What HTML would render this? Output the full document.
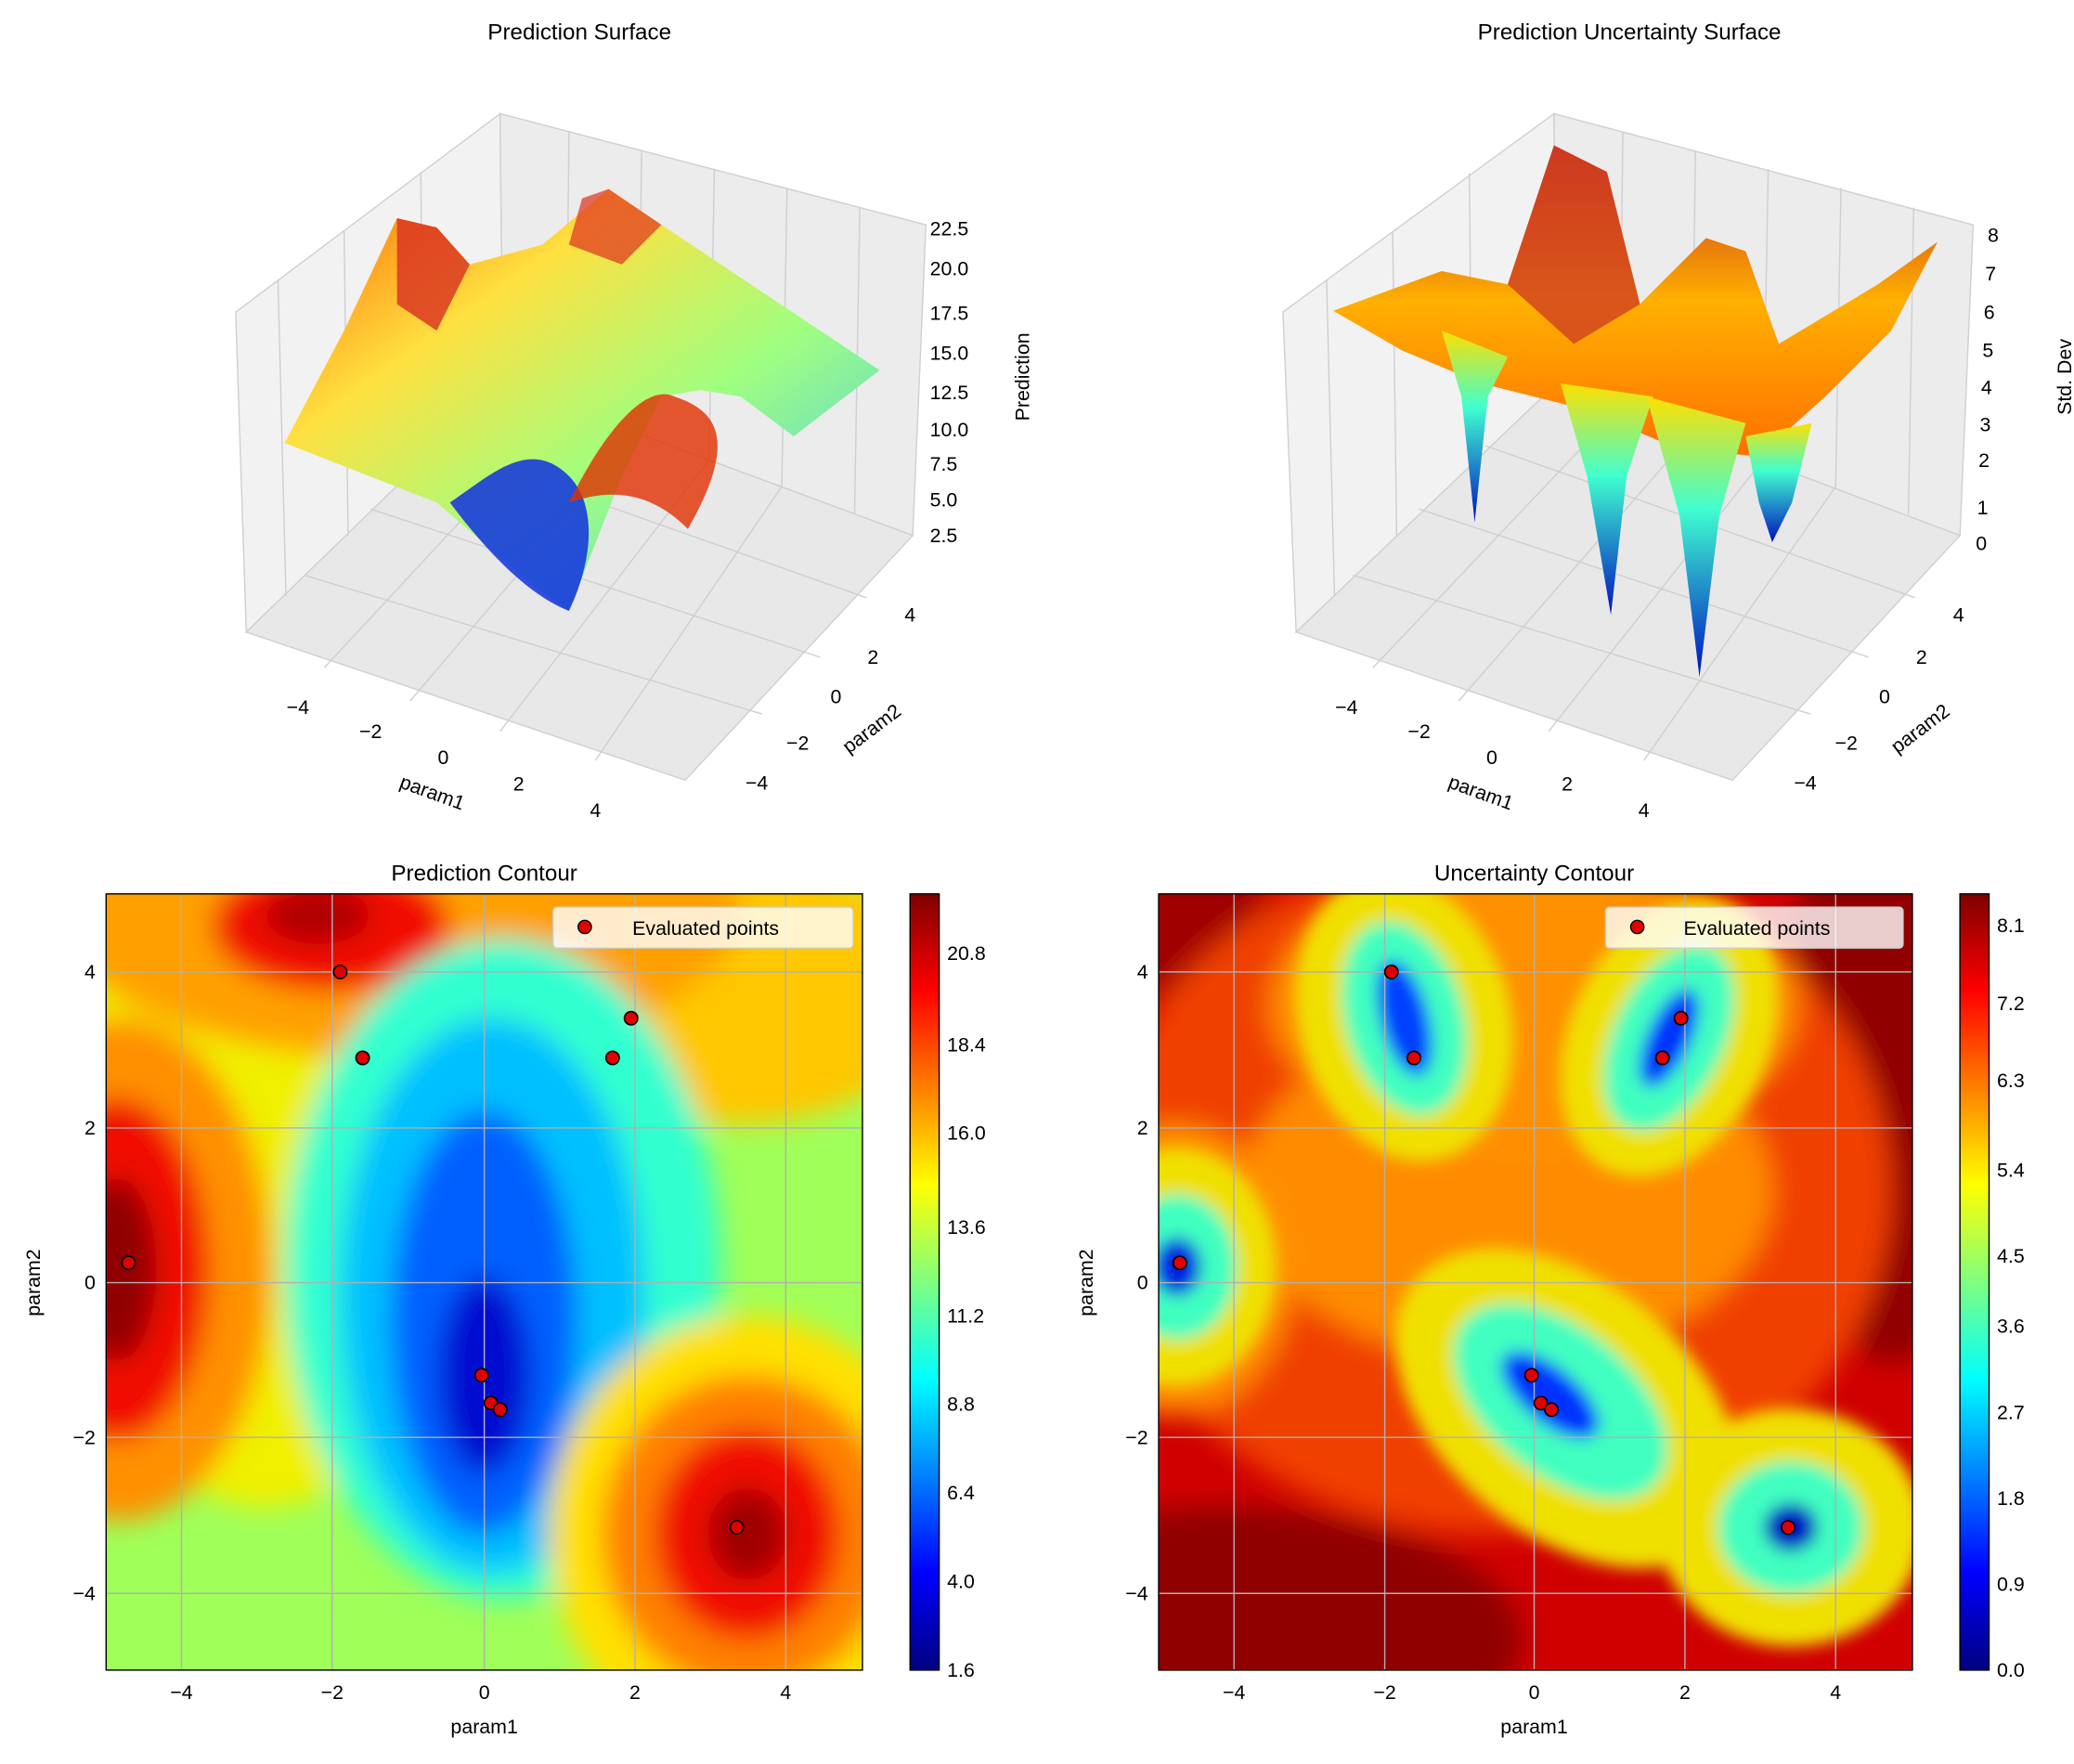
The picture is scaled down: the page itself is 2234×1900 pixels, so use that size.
<!DOCTYPE html>
<html><head><meta charset="utf-8"><style>html,body{margin:0;padding:0;background:#fff}svg{display:block}text{font-family:"Liberation Sans","DejaVu Sans",sans-serif;fill:#000}</style></head>
<body>
<svg width="2234" height="1900" viewBox="0 0 1568 1334" xmlns="http://www.w3.org/2000/svg">
<defs>
<linearGradient id="jet" x1="0" y1="1" x2="0" y2="0">
<stop offset="0" stop-color="#00007f"/><stop offset=".125" stop-color="#0000ff"/><stop offset=".375" stop-color="#00ffff"/><stop offset=".625" stop-color="#ffff00"/><stop offset=".875" stop-color="#ff0000"/><stop offset="1" stop-color="#7f0000"/></linearGradient>
<filter id="bl" x="-20%" y="-20%" width="140%" height="140%"><feGaussianBlur stdDeviation="10"/></filter>
<filter id="bl2" x="-20%" y="-20%" width="140%" height="140%"><feGaussianBlur stdDeviation="6"/></filter>
<clipPath id="c1"><rect x="80" y="676" width="572" height="587"/></clipPath>
<clipPath id="c2"><rect x="876" y="676" width="570" height="587"/></clipPath>
<linearGradient id="s1" x1="0" y1="0" x2="1" y2="1"><stop offset="0" stop-color="#ff6000"/><stop offset=".3" stop-color="#ffe040"/><stop offset=".6" stop-color="#a0ff80"/><stop offset="1" stop-color="#40c0ff"/></linearGradient>
<linearGradient id="s2" x1="0" y1="0" x2="0" y2="1"><stop offset="0" stop-color="#c02020"/><stop offset=".5" stop-color="#ffb000"/><stop offset="1" stop-color="#ff7000"/></linearGradient>
<linearGradient id="sp" x1="0" y1="0" x2="0" y2="1"><stop offset="0" stop-color="#ffe000"/><stop offset=".4" stop-color="#40ffd0"/><stop offset="1" stop-color="#0010c0"/></linearGradient>
</defs>

<text x="438" y="30" font-size="17" text-anchor="middle">Prediction Surface</text>
<text x="1232" y="30" font-size="17" text-anchor="middle">Prediction Uncertainty Surface</text>
<text x="366" y="666" font-size="17" text-anchor="middle">Prediction Contour</text>
<text x="1160" y="666" font-size="17" text-anchor="middle">Uncertainty Contour</text>

<g>
<polygon points="178,236 378,86 380,290 186,478" fill="#f2f2f2" stroke="#d0d0d0"/>
<polygon points="378,86 700,170 690,405 380,290" fill="#ececec" stroke="#d0d0d0"/>
<polygon points="186,478 380,290 690,405 518,590" fill="#e8e8e8" stroke="#d0d0d0"/>
<g stroke="#cfcfcf" stroke-width="1" fill="none">
<line x1="210" y1="212" x2="216" y2="451"/><line x1="260" y1="175" x2="263" y2="405"/><line x1="318" y1="131" x2="320" y2="349"/>
<line x1="430" y1="100" x2="428" y2="308"/><line x1="485" y1="114" x2="482" y2="328"/><line x1="540" y1="128" x2="536" y2="348"/><line x1="595" y1="142" x2="591" y2="368"/><line x1="650" y1="157" x2="646" y2="389"/>
<line x1="245" y1="505" x2="428" y2="308"/><line x1="310" y1="530" x2="482" y2="328"/><line x1="378" y1="553" x2="536" y2="348"/><line x1="450" y1="575" x2="591" y2="368"/>
<line x1="230" y1="435" x2="576" y2="540"/><line x1="280" y1="385" x2="620" y2="497"/><line x1="330" y1="337" x2="655" y2="452"/>
</g>
<path d="M215,335 L260,250 L300,165 L330,172 L355,200 L410,185 L460,143 L500,170 L560,210 L665,280 L600,330 L560,300 L530,295 L500,300 L470,360 L430,462 L400,440 L330,380 Z" fill="url(#s1)"/>
<path d="M300,165 L330,172 L355,200 L330,250 L300,230 Z" fill="#d83020" opacity=".8"/>
<path d="M440,150 L460,143 L500,170 L470,200 L430,185 Z" fill="#e03020" opacity=".7"/>
<path d="M340,380 C370,360 400,330 430,360 C450,380 450,420 430,462 C400,450 370,420 340,380 Z" fill="#1030e0" opacity=".85"/>
<path d="M430,380 C460,320 490,290 510,300 C540,310 560,330 520,400 C490,370 460,370 430,380 Z" fill="#e03000" opacity=".8"/>
<g font-size="15">
<text x="703" y="178">22.5</text><text x="703" y="208">20.0</text><text x="703" y="242">17.5</text><text x="703" y="272">15.0</text><text x="703" y="302">12.5</text><text x="703" y="330">10.0</text><text x="703" y="356">7.5</text><text x="703" y="383">5.0</text><text x="703" y="410">2.5</text>
<text x="225" y="540" text-anchor="middle">−4</text><text x="280" y="558" text-anchor="middle">−2</text><text x="335" y="578" text-anchor="middle">0</text><text x="392" y="598" text-anchor="middle">2</text><text x="450" y="618" text-anchor="middle">4</text>
<text x="572" y="597" text-anchor="middle">−4</text><text x="603" y="567" text-anchor="middle">−2</text><text x="632" y="532" text-anchor="middle">0</text><text x="660" y="502" text-anchor="middle">2</text><text x="688" y="470" text-anchor="middle">4</text>
<text transform="translate(325,604) rotate(20)" text-anchor="middle">param1</text>
<text transform="translate(662,555) rotate(-37)" text-anchor="middle">param2</text>
<text transform="translate(778,285) rotate(-90)" text-anchor="middle">Prediction</text>
</g>
</g>

<g>
<polygon points="970,236 1175,86 1177,290 980,478" fill="#f2f2f2" stroke="#d0d0d0"/>
<polygon points="1175,86 1492,170 1482,405 1177,290" fill="#ececec" stroke="#d0d0d0"/>
<polygon points="980,478 1177,290 1482,405 1310,590" fill="#e8e8e8" stroke="#d0d0d0"/>
<g stroke="#cfcfcf" stroke-width="1" fill="none">
<line x1="1003" y1="212" x2="1009" y2="451"/><line x1="1053" y1="175" x2="1056" y2="405"/><line x1="1111" y1="131" x2="1113" y2="349"/>
<line x1="1227" y1="100" x2="1225" y2="308"/><line x1="1282" y1="114" x2="1279" y2="328"/><line x1="1337" y1="128" x2="1333" y2="348"/><line x1="1392" y1="142" x2="1388" y2="368"/><line x1="1447" y1="157" x2="1443" y2="389"/>
<line x1="1038" y1="505" x2="1225" y2="308"/><line x1="1103" y1="530" x2="1279" y2="328"/><line x1="1171" y1="553" x2="1333" y2="348"/><line x1="1243" y1="575" x2="1388" y2="368"/>
<line x1="1023" y1="435" x2="1369" y2="540"/><line x1="1073" y1="385" x2="1413" y2="497"/><line x1="1123" y1="337" x2="1448" y2="452"/>
</g>
<path d="M1008,235 L1090,205 L1140,215 L1175,110 L1215,130 L1240,230 L1290,180 L1320,190 L1345,260 L1420,215 L1465,183 L1430,250 L1380,300 L1330,345 L1270,340 L1200,310 L1120,290 L1060,265 Z" fill="url(#s2)"/>
<path d="M1140,215 L1175,110 L1215,130 L1240,230 L1190,260 Z" fill="#d04020" opacity=".8"/>
<path d="M1090,250 L1105,300 L1115,395 L1125,300 L1140,270 Z" fill="url(#sp)"/>
<path d="M1180,290 L1200,360 L1218,465 L1230,360 L1250,300 Z" fill="url(#sp)"/>
<path d="M1245,300 L1270,390 L1285,512 L1300,390 L1320,320 Z" fill="url(#sp)"/>
<path d="M1320,330 L1330,380 L1340,410 L1355,380 L1370,320 Z" fill="url(#sp)"/>
<g font-size="15">
<text x="1503" y="183">8</text><text x="1501" y="212">7</text><text x="1500" y="241">6</text><text x="1499" y="270">5</text><text x="1498" y="298">4</text><text x="1497" y="326">3</text><text x="1496" y="353">2</text><text x="1495" y="389">1</text><text x="1494" y="416">0</text>
<text x="1018" y="540" text-anchor="middle">−4</text><text x="1073" y="558" text-anchor="middle">−2</text><text x="1128" y="578" text-anchor="middle">0</text><text x="1185" y="598" text-anchor="middle">2</text><text x="1243" y="618" text-anchor="middle">4</text>
<text x="1365" y="597" text-anchor="middle">−4</text><text x="1396" y="567" text-anchor="middle">−2</text><text x="1425" y="532" text-anchor="middle">0</text><text x="1453" y="502" text-anchor="middle">2</text><text x="1481" y="470" text-anchor="middle">4</text>
<text transform="translate(1118,604) rotate(20)" text-anchor="middle">param1</text>
<text transform="translate(1455,555) rotate(-37)" text-anchor="middle">param2</text>
<text transform="translate(1566,285) rotate(-90)" text-anchor="middle">Std. Dev</text>
</g>
</g>

<g clip-path="url(#c1)">
<rect x="80" y="676" width="572" height="587" fill="#a0ff58"/>
<g filter="url(#bl)">
<ellipse cx="200" cy="880" rx="150" ry="260" fill="#f0f000"/>
<ellipse cx="560" cy="750" rx="150" ry="100" fill="#ffc800"/>
<ellipse cx="300" cy="690" rx="260" ry="110" fill="#ffa000"/>
<ellipse cx="250" cy="700" rx="90" ry="50" fill="#f01000"/>
<ellipse cx="240" cy="692" rx="40" ry="22" fill="#b00000"/>
<ellipse cx="90" cy="960" rx="115" ry="190" fill="#ff9000"/>
<ellipse cx="88" cy="960" rx="70" ry="130" fill="#f01000"/>
<ellipse cx="88" cy="960" rx="30" ry="70" fill="#900000"/>
<ellipse cx="380" cy="960" rx="165" ry="250" fill="#30ffd0"/>
<ellipse cx="372" cy="980" rx="115" ry="210" fill="#00c0ff"/>
<ellipse cx="366" cy="1000" rx="70" ry="160" fill="#0060ff"/>
<ellipse cx="366" cy="1040" rx="35" ry="75" fill="#0010d0"/>
<ellipse cx="565" cy="1160" rx="150" ry="165" fill="#ffe000"/>
<ellipse cx="565" cy="1160" rx="110" ry="120" fill="#ff8000"/>
<ellipse cx="565" cy="1160" rx="70" ry="80" fill="#f01000"/>
<ellipse cx="565" cy="1160" rx="30" ry="35" fill="#a00000"/>
</g>
<g stroke="#b0b0b0" stroke-width="1">
<line x1="137" y1="676" x2="137" y2="1263"/><line x1="251" y1="676" x2="251" y2="1263"/><line x1="366" y1="676" x2="366" y2="1263"/><line x1="480" y1="676" x2="480" y2="1263"/><line x1="594" y1="676" x2="594" y2="1263"/>
<line x1="80" y1="735" x2="652" y2="735"/><line x1="80" y1="853" x2="652" y2="853"/><line x1="80" y1="970" x2="652" y2="970"/><line x1="80" y1="1087" x2="652" y2="1087"/><line x1="80" y1="1205" x2="652" y2="1205"/>
</g>
<g fill="#e00000" stroke="#000" stroke-width="1.2">
<circle cx="257" cy="735" r="5"/><circle cx="274" cy="800" r="5"/><circle cx="463" cy="800" r="5"/><circle cx="477" cy="770" r="5"/><circle cx="97" cy="955" r="5"/><circle cx="364" cy="1040" r="5"/><circle cx="371" cy="1061" r="5"/><circle cx="378" cy="1066" r="5"/><circle cx="557" cy="1155" r="5"/>
</g>
</g>
<rect x="80" y="676" width="572" height="587" fill="none" stroke="#000"/>
<rect x="418" y="686" width="227" height="31" rx="3" fill="#fff" fill-opacity=".8" stroke="#ccc"/>
<circle cx="442" cy="701" r="5" fill="#e00000" stroke="#000"/>
<text x="478" y="707" font-size="15">Evaluated points</text>

<g clip-path="url(#c2)">
<rect x="876" y="676" width="570" height="587" fill="#d00000"/>
<g filter="url(#bl)">
<ellipse cx="930" cy="1240" rx="220" ry="100" fill="#900000"/>
<ellipse cx="1430" cy="800" rx="80" ry="230" fill="#900000"/>
<ellipse cx="900" cy="700" rx="60" ry="60" fill="#a00000"/>
<ellipse cx="1130" cy="900" rx="300" ry="260" fill="#f04000"/>
<ellipse cx="1140" cy="900" rx="200" ry="130" fill="#ff8c00"/>
<ellipse cx="1160" cy="760" rx="200" ry="110" fill="#ff9000"/>
<ellipse cx="888" cy="960" rx="90" ry="110" fill="#ff9000"/>
</g>
<g filter="url(#bl2)">
<ellipse cx="1062" cy="770" rx="80" ry="110" fill="#f0e000" transform="rotate(-15 1062 770)"/>
<ellipse cx="1062" cy="770" rx="45" ry="75" fill="#40ffc0" transform="rotate(-15 1062 770)"/>
<ellipse cx="1062" cy="770" rx="18" ry="45" fill="#0040ff" transform="rotate(-15 1062 770)"/>
<ellipse cx="1262" cy="785" rx="75" ry="110" fill="#f0e000" transform="rotate(25 1262 785)"/>
<ellipse cx="1262" cy="785" rx="42" ry="75" fill="#40ffc0" transform="rotate(25 1262 785)"/>
<ellipse cx="1262" cy="785" rx="16" ry="40" fill="#0030ff" transform="rotate(25 1262 785)"/>
<ellipse cx="890" cy="958" rx="75" ry="90" fill="#f0e000"/>
<ellipse cx="890" cy="958" rx="45" ry="55" fill="#40ffc0"/>
<ellipse cx="890" cy="958" rx="18" ry="22" fill="#0020e0"/>
<ellipse cx="1185" cy="1065" rx="150" ry="95" fill="#f0e000" transform="rotate(40 1185 1065)"/>
<ellipse cx="1180" cy="1060" rx="95" ry="55" fill="#40ffc0" transform="rotate(40 1180 1060)"/>
<ellipse cx="1172" cy="1055" rx="45" ry="20" fill="#0030ff" transform="rotate(40 1172 1055)"/>
<ellipse cx="1354" cy="1155" rx="100" ry="90" fill="#f0e000"/>
<ellipse cx="1354" cy="1155" rx="55" ry="50" fill="#40ffc0"/>
<ellipse cx="1354" cy="1155" rx="20" ry="18" fill="#0010c0"/>
</g>
<g stroke="#b0b0b0" stroke-width="1">
<line x1="933" y1="676" x2="933" y2="1263"/><line x1="1047" y1="676" x2="1047" y2="1263"/><line x1="1160" y1="676" x2="1160" y2="1263"/><line x1="1274" y1="676" x2="1274" y2="1263"/><line x1="1388" y1="676" x2="1388" y2="1263"/>
<line x1="876" y1="735" x2="1446" y2="735"/><line x1="876" y1="853" x2="1446" y2="853"/><line x1="876" y1="970" x2="1446" y2="970"/><line x1="876" y1="1087" x2="1446" y2="1087"/><line x1="876" y1="1205" x2="1446" y2="1205"/>
</g>
<g fill="#e00000" stroke="#000" stroke-width="1.2">
<circle cx="1052" cy="735" r="5"/><circle cx="1069" cy="800" r="5"/><circle cx="1257" cy="800" r="5"/><circle cx="1271" cy="770" r="5"/><circle cx="892" cy="955" r="5"/><circle cx="1158" cy="1040" r="5"/><circle cx="1165" cy="1061" r="5"/><circle cx="1173" cy="1066" r="5"/><circle cx="1352" cy="1155" r="5"/>
</g>
</g>
<rect x="876" y="676" width="570" height="587" fill="none" stroke="#000"/>
<rect x="1214" y="686" width="225" height="31" rx="3" fill="#fff" fill-opacity=".8" stroke="#ccc"/>
<circle cx="1238" cy="701" r="5" fill="#e00000" stroke="#000"/>
<text x="1273" y="707" font-size="15">Evaluated points</text>

<g font-size="15" text-anchor="middle">
<text x="137" y="1285">−4</text><text x="251" y="1285">−2</text><text x="366" y="1285">0</text><text x="480" y="1285">2</text><text x="594" y="1285">4</text>
<text x="933" y="1285">−4</text><text x="1047" y="1285">−2</text><text x="1160" y="1285">0</text><text x="1274" y="1285">2</text><text x="1388" y="1285">4</text>
<text x="366" y="1311">param1</text><text x="1160" y="1311">param1</text>
<text transform="translate(30,970) rotate(-90)">param2</text><text transform="translate(826,970) rotate(-90)">param2</text>
</g>
<g font-size="15" text-anchor="end">
<text x="72" y="740">4</text><text x="72" y="858">2</text><text x="72" y="975">0</text><text x="72" y="1092">−2</text><text x="72" y="1210">−4</text>
<text x="868" y="740">4</text><text x="868" y="858">2</text><text x="868" y="975">0</text><text x="868" y="1092">−2</text><text x="868" y="1210">−4</text>
</g>

<rect x="688" y="676" width="22" height="587" fill="url(#jet)" stroke="#000"/>
<rect x="1482" y="676" width="22" height="587" fill="url(#jet)" stroke="#000"/>
<g font-size="15">
<text x="716" y="1268">1.6</text><text x="716" y="1201">4.0</text><text x="716" y="1134">6.4</text><text x="716" y="1067">8.8</text><text x="716" y="1000">11.2</text><text x="716" y="933">13.6</text><text x="716" y="862">16.0</text><text x="716" y="795">18.4</text><text x="716" y="726">20.8</text>
<text x="1510" y="1268">0.0</text><text x="1510" y="1203">0.9</text><text x="1510" y="1138">1.8</text><text x="1510" y="1073">2.7</text><text x="1510" y="1008">3.6</text><text x="1510" y="955">4.5</text><text x="1510" y="890">5.4</text><text x="1510" y="822">6.3</text><text x="1510" y="764">7.2</text><text x="1510" y="705">8.1</text>
</g>
</svg>
</body></html>
